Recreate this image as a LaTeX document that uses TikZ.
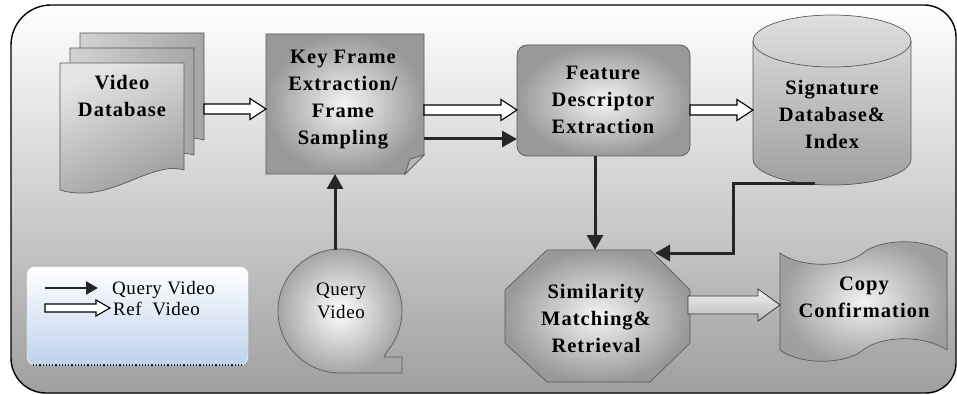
\documentclass[tikz,border=0pt]{standalone}
\usepackage{fontspec}
\setmainfont{Liberation Serif}
\usetikzlibrary{arrows.meta,calc}

% hollow horizontal block arrow: from, to, half shaft, half head, head length
\newcommand\refarrow[5]{%
  \draw[refline] let \p1=(#1), \p2=(#2) in
    (\x1,\y1+#3) -- (\x2-#5,\y1+#3) -- (\x2-#5,\y1+#4) -- (\x2,\y1)
    -- (\x2-#5,\y1-#4) -- (\x2-#5,\y1-#3) -- (\x1,\y1-#3) -- cycle;}

\tikzset{
  x=1pt, y=1pt,
  boxtext/.style={align=center, inner sep=0pt, text=black,
    font=\fontsize{20.5}{27}\selectfont\bfseries\addfontfeature{LetterSpace=5}},
  plaintext/.style={inner sep=0pt, text=black,
    font=\fontsize{19}{23}\selectfont\addfontfeature{LetterSpace=3}},
  outline/.style={draw=black!65, line width=0.7pt},
  backsheet/.style={outline, left color=gray!35, right color=gray!70},
  frontsheet/.style={outline, top color=gray!20, bottom color=gray!80, shading angle=25},
  process/.style={outline, inner color=gray!8, outer color=gray!80},
  drum/.style={outline, top color=gray!25, bottom color=gray!75},
  refline/.style={draw=black, line width=1.1pt, fill=white, line join=miter},
  qarrow/.style={draw=black!85, line width=3pt, -{Triangle[length=15pt,width=16pt]}},
  bigarrow/.style={draw=gray!45!black, line width=0.8pt, top color=gray!10, bottom color=gray!55},
}

\begin{document}
\begin{tikzpicture}
\useasboundingbox (0,0) rectangle (957,-395);

% outer panel
\path[top color=white, bottom color=gray!75, draw=black, line width=1.4pt]
  (11,-45) arc[start angle=180, end angle=90, radius=40]
  -- (924,-5) arc[start angle=90, end angle=0, radius=32]
  -- (956,-363) arc[start angle=0, end angle=-90, radius=30]
  -- (46,-393) arc[start angle=-90, end angle=-180, radius=35]
  -- cycle;

% stacked video documents
\foreach \dx/\dy/\st in {20/30/backsheet, 10/15/backsheet, 0/0/frontsheet}{
  \begin{scope}[shift={(\dx,\dy)}]
    \path[\st] (60,-63) -- (184,-63) -- (184,-170)
      .. controls (150,-160) and (110,-205) .. (60,-190) -- cycle;
  \end{scope}
}

% key frame extraction (folded sheet)
\path[process] (266,-34) -- (424,-34) -- (424,-155) -- (405,-174) -- (266,-174) -- cycle;
\path[outline, fill=gray!55] (405,-174) -- (410,-159) -- (424,-155) -- cycle;

% feature descriptor extraction
\path[process, rounded corners=10pt] (517,-45) rectangle (690,-156);

% signature database (cylinder)
\path[drum] (753,-41) -- (753,-159)
  arc[start angle=180, end angle=360, x radius=79, y radius=26]
  -- (911,-41) arc[start angle=0, end angle=180, x radius=79, y radius=26] -- cycle;
\draw[outline] (753,-41) arc[start angle=180, end angle=360, x radius=79, y radius=26];

% query video (sequential storage)
\path[outline, inner color=white, outer color=gray!70]
  (402,-373) -- (340,-373) arc[start angle=-90, end angle=-400, radius=62]
  -- (384,-357) -- (402,-357) -- cycle;

% similarity matching (octagon)
\path[process] (547,-250) -- (650,-250) -- (690,-290) -- (690,-343)
  -- (650,-382) -- (547,-382) -- (505,-343) -- (505,-290) -- cycle;

% copy confirmation (punched tape)
\path[outline, inner color=gray!10, outer color=gray!75]
  (780,-253) .. controls (800,-268) and (845,-268) .. (863,-253)
  .. controls (882,-238) and (925,-238) .. (947,-253) -- (947,-350)
  .. controls (925,-335) and (882,-335) .. (863,-350)
  .. controls (845,-365) and (800,-365) .. (780,-350) -- cycle;

% legend panel
\path[top color=white, bottom color={rgb,255:red,190;green,210;blue,236},
  draw=white, rounded corners=8pt] (27,-267) rectangle (248,-365);
\draw[gray!30!black, dotted, line width=1.2pt] (33,-365) -- (244,-365);

% labels
\node[boxtext] (vdb) at (122,-96) {Video\\Database};
\node[boxtext] (kf)  at (343,-100) {Key Frame\\Extraction/\\Frame\\Sampling};
\node[boxtext] (fd)  at (603,-100) {Feature\\Descriptor\\Extraction};
\node[boxtext] (sig) at (832,-114) {Signature\\Database\&\\Index};
\node[boxtext] (sim) at (596,-318) {Similarity\\Matching\&\\Retrieval};
\node[boxtext] (cc)  at (864,-297) {Copy\\Confirmation};
\node[plaintext, align=center] (qv) at (341,-301) {Query\\Video};
\node[plaintext, anchor=base west] (lgq) at (112,-294) {Query Video};
\node[plaintext, anchor=base west] (lgr) at (113,-315) {Ref~~Video};

% connection points
\coordinate (vdbR) at (204,-109);
\coordinate (kfL)  at (266,-109);
\coordinate (kfR)  at (424,-110);
\coordinate (fdL)  at (517,-110);
\coordinate (kfRb) at (424,-139);
\coordinate (fdLb) at (517,-139);
\coordinate (fdR)  at (690,-110);
\coordinate (sigL) at (753,-110);
\coordinate (fdB)  at (595,-156);
\coordinate (simT) at (595,-250);
\coordinate (sigB) at (815,-184);
\coordinate (simTR) at (655,-253);
\coordinate (qvT)  at (335,-250);
\coordinate (kfB)  at (335,-174);
\coordinate (simR) at (688,-305);
\coordinate (ccL)  at (780,-305);
\coordinate (lgA1) at (45,-288);
\coordinate (lgA2) at (98,-288);
\coordinate (lgB1) at (45,-308);
\coordinate (lgB2) at (110,-308);

% reference video flow (hollow arrows)
\refarrow{vdbR}{kfL}{5pt}{10.5pt}{16pt}
\refarrow{kfR}{fdL}{5pt}{10.5pt}{16pt}
\refarrow{fdR}{sigL}{5pt}{10.5pt}{16pt}
\refarrow{lgB1}{lgB2}{4pt}{8pt}{14pt}

% query video flow (solid arrows)
\draw[qarrow] (qvT) -- (kfB);
\draw[qarrow] (kfRb) -- (fdLb);
\draw[qarrow] (fdB) -- (simT);
\draw[qarrow] (sigB) -- ++(-82,0) |- (simTR);
\draw[qarrow, line width=2.5pt, -{Triangle[length=12pt,width=13pt]}] (lgA1) -- (lgA2);

% result arrow
\draw[bigarrow] let \p1=(simR), \p2=(ccL) in
  (\x1,\y1+9pt) -- (\x2-22pt,\y1+9pt) -- (\x2-22pt,\y1+16pt) -- (\x2,\y1)
  -- (\x2-22pt,\y1-16pt) -- (\x2-22pt,\y1-9pt) -- (\x1,\y1-9pt) -- cycle;
\end{tikzpicture}
\end{document}
